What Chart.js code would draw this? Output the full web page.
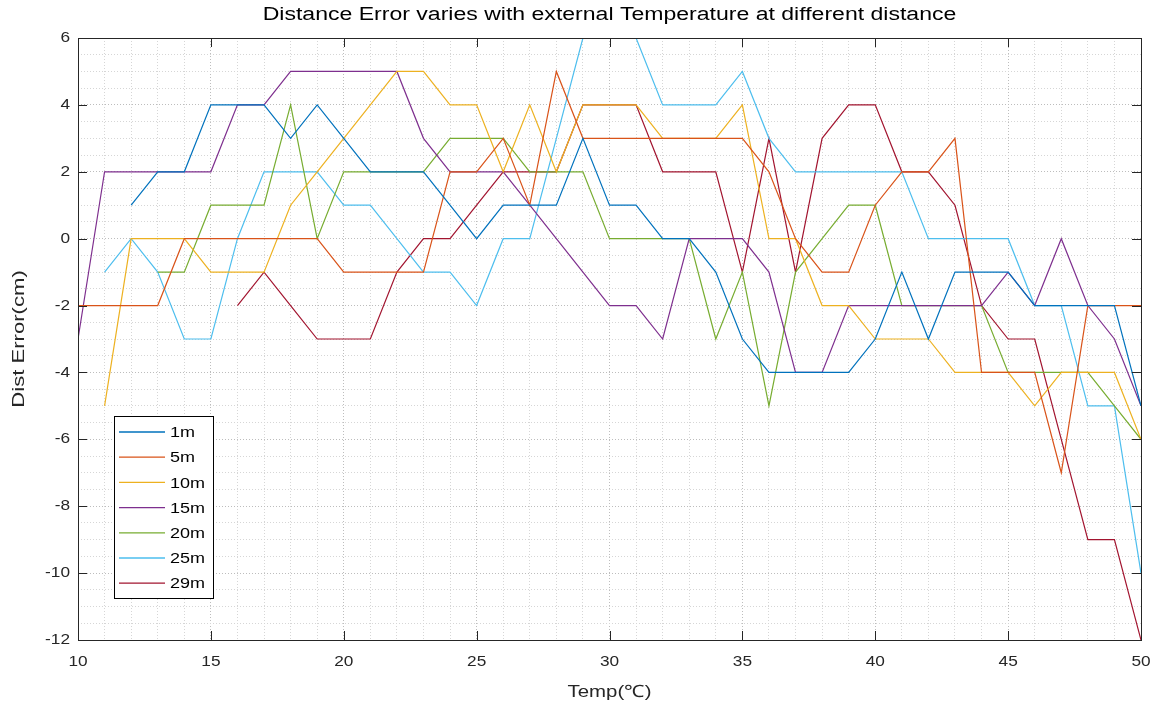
<!DOCTYPE html>
<html>
<head>
<meta charset="utf-8">
<script src="https://cdn.jsdelivr.net/npm/chart.js@4.4.0/dist/chart.umd.min.js"></script>
<style>
html, body { margin: 0; padding: 0; background: #fff; }
canvas { display: block; }
</style>
</head>
<body>
<canvas id="errChart" width="1156" height="713"></canvas>
<script>
// Temperatures (x) and distance error per series (cm)
const temps = [10,11,12,13,14,15,16,17,18,19,20,21,22,23,24,25,26,27,28,29,30,
               31,32,33,34,35,36,37,38,39,40,41,42,43,44,45,46,47,48,49,50];

const err1m  = [null,null,1,2,2,4,4,4,3,4,3,2,2,2,1,0,1,1,1,3,1,1,0,0,-1,-3,-4,-4,-4,-4,-3,-1,-3,-1,-1,-1,-2,-2,-2,-2,-5];
const err5m  = [-2,-2,-2,-2,0,0,0,0,0,0,-1,-1,-1,-1,2,2,3,1,5,3,3,3,3,3,3,3,2,0,-1,-1,1,2,2,3,-4,-4,-4,-7,-2,-2,-2];
const err10m = [null,-5,0,0,0,-1,-1,-1,1,2,3,4,5,5,4,4,2,4,2,4,4,4,3,3,3,4,0,0,-2,-2,-3,-3,-3,-4,-4,-4,-5,-4,-4,-4,-6];
const err15m = [-3,2,2,2,2,2,4,4,5,5,5,5,5,3,2,2,2,1,0,-1,-2,-2,-3,0,0,0,-1,-4,-4,-2,-2,-2,-2,-2,-2,-1,-2,0,-2,-3,-5];
const err20m = [null,null,null,-1,-1,1,1,1,4,0,2,2,2,2,3,3,3,2,2,2,0,0,0,0,-3,-1,-5,-1,0,1,1,-2,-2,-2,-2,-4,-4,-4,-4,-5,-6];
const err25m = [null,-1,0,-1,-3,-3,0,2,2,2,1,1,0,-1,-1,-2,0,0,3,6,6,6,4,4,4,5,3,2,2,2,2,2,0,0,0,0,-2,-2,-5,-5,-10];
const err29m = [null,null,null,null,null,null,-2,-1,-2,-3,-3,-3,-1,0,0,1,2,2,2,4,4,4,2,2,2,-1,3,-1,3,4,4,2,2,1,-2,-3,-3,-6,-9,-9,-12];

const seriesNames = ['1m', '5m', '10m', '15m', '20m', '25m', '29m'];
const seriesValues = [err1m, err5m, err10m, err15m, err20m, err25m, err29m];
const seriesColors = ['#0072BD', '#D95319', '#EDB120', '#7E2F8E', '#77AC30', '#4DBEEE', '#A2142F'];

const xTickLabels = [10, 15, 20, 25, 30, 35, 40, 45, 50];
const yTickLabels = [-12, -10, -8, -6, -4, -2, 0, 2, 4, 6];

const FONT = '"Liberation Sans", Arial, sans-serif';
const INK = '#262626';

// draw text stretched along its own direction (the figure uses a wide font)
function drawText(ctx, text, x, y, size, align, stretch, rotate) {
    ctx.save();
    ctx.translate(x, y);
    if (rotate) ctx.rotate(rotate);
    ctx.scale(stretch, 1);
    ctx.font = size + 'px ' + FONT;
    ctx.textAlign = align;
    ctx.textBaseline = 'middle';
    ctx.fillText(text, 0, 0);
    ctx.restore();
}

// Axes box, inward ticks, tick labels, titles and legend in MATLAB style
const matlabFrame = {
    id: 'matlabFrame',
    afterDraw(chart) {
        const ctx = chart.ctx;
        const area = chart.chartArea;
        const xs = chart.scales.x;
        const ys = chart.scales.y;
        const tickLen = 9;

        ctx.save();
        ctx.strokeStyle = INK;
        ctx.lineWidth = 1;
        ctx.beginPath();
        xTickLabels.forEach(v => {
            const px = Math.round(xs.getPixelForValue(v)) + 0.5;
            ctx.moveTo(px, area.bottom); ctx.lineTo(px, area.bottom - tickLen);
            ctx.moveTo(px, area.top); ctx.lineTo(px, area.top + tickLen);
        });
        yTickLabels.forEach(v => {
            const py = Math.round(ys.getPixelForValue(v)) + 0.5;
            ctx.moveTo(area.left, py); ctx.lineTo(area.left + tickLen, py);
            ctx.moveTo(area.right, py); ctx.lineTo(area.right - tickLen, py);
        });
        ctx.stroke();
        ctx.strokeRect(Math.round(area.left) + 0.5, Math.round(area.top) + 0.5,
                       Math.round(area.right - area.left), Math.round(area.bottom - area.top));

        ctx.fillStyle = INK;
        xTickLabels.forEach(v => {
            drawText(ctx, String(v), xs.getPixelForValue(v), area.bottom + 22, 15, 'center', 1.15);
        });
        yTickLabels.forEach(v => {
            drawText(ctx, String(v), area.left - 8, ys.getPixelForValue(v), 15, 'right', 1.15);
        });

        // titles
        ctx.fillStyle = '#000';
        drawText(ctx, 'Distance Error varies with external Temperature at different distance',
                 (area.left + area.right) / 2, 15, 18, 'center', 1.28);
        ctx.fillStyle = INK;
        drawText(ctx, 'Temp(\u2103)', (area.left + area.right) / 2, 692, 17, 'center', 1.2);
        drawText(ctx, 'Dist Error(cm)', 19, (area.top + area.bottom) / 2, 17, 'center', 1.3, -Math.PI / 2);

        // legend box
        const lx = 114, ly = 416, lw = 99, lh = 182;
        ctx.fillStyle = '#fff';
        ctx.fillRect(lx, ly, lw, lh);
        ctx.strokeStyle = '#000';
        ctx.strokeRect(lx + 0.5, ly + 0.5, lw, lh);
        chart.data.datasets.forEach((ds, i) => {
            const yy = 432 + i * 25.2;
            ctx.strokeStyle = ds.borderColor;
            ctx.lineWidth = 1.3;
            ctx.beginPath();
            ctx.moveTo(119, yy); ctx.lineTo(165, yy);
            ctx.stroke();
            ctx.fillStyle = '#000';
            drawText(ctx, ds.label, 170, yy + 1, 15, 'left', 1.2);
        });
        ctx.restore();
    }
};

const datasets = seriesNames.map((name, i) => ({
    label: name,
    data: temps.map((t, k) => ({ x: t, y: seriesValues[i][k] })),
    borderColor: seriesColors[i],
    backgroundColor: seriesColors[i],
    borderWidth: 1.2,
    pointRadius: 0,
    tension: 0,
    spanGaps: false,
    fill: false
}));

const gridColor = function(ctx, major) {
    return ctx.tick && major(ctx.tick.value) ? '#bdbdbd' : '#d6d6d6';
};

new Chart(document.getElementById('errChart').getContext('2d'), {
    type: 'line',
    data: { datasets: datasets },
    options: {
        responsive: false,
        animation: false,
        devicePixelRatio: 1,
        layout: { padding: { left: 0, right: 15, top: 38, bottom: 0 } },
        plugins: {
            legend: { display: false },
            title: { display: false },
            tooltip: { enabled: false }
        },
        scales: {
            x: {
                type: 'linear',
                min: 10,
                max: 50,
                ticks: { display: false, stepSize: 1, autoSkip: false },
                grid: {
                    drawTicks: false,
                    color: ctx => gridColor(ctx, v => v % 5 === 0),
                    lineWidth: 1
                },
                border: { display: false, dash: [1, 2] },
                afterFit: scale => { scale.height = 73; }
            },
            y: {
                type: 'linear',
                min: -12,
                max: 6,
                ticks: { display: false, stepSize: 0.5, autoSkip: false },
                grid: {
                    drawTicks: false,
                    color: ctx => gridColor(ctx, v => v % 2 === 0),
                    lineWidth: 1
                },
                border: { display: false, dash: [1, 2] },
                afterFit: scale => { scale.width = 78; }
            }
        }
    },
    plugins: [matlabFrame]
});
</script>
</body>
</html>
